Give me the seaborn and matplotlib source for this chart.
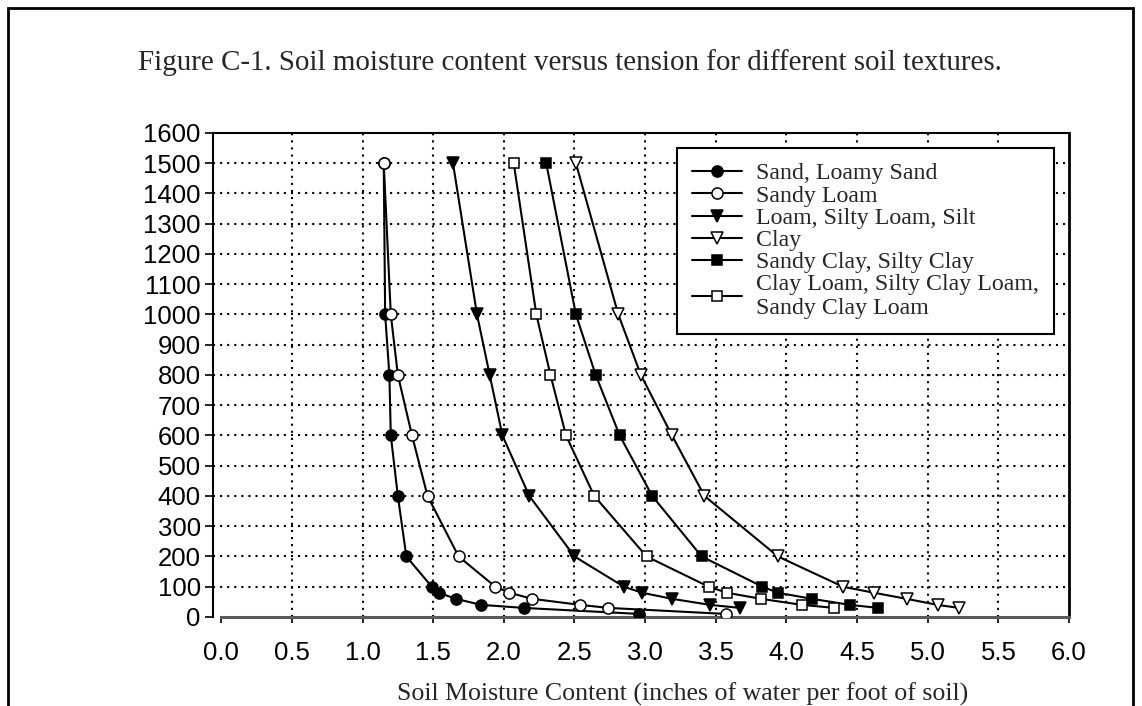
import matplotlib
matplotlib.use("Agg")
import matplotlib.pyplot as plt
import numpy as np
import pandas as pd
import seaborn as sns
from matplotlib.patches import Rectangle

# tension (y) values per curve
tension_long = [1500, 1000, 800, 600, 400, 200, 100, 80, 60, 40, 30, 10]
tension_short = [1500, 1000, 800, 600, 400, 200, 100, 80, 60, 40, 30]

# moisture content (inches of water per foot of soil)
sand = [1.15, 1.16, 1.19, 1.20, 1.25, 1.31, 1.49, 1.54, 1.66, 1.84, 2.14, 2.96]
sandy_loam = [1.15, 1.20, 1.25, 1.35, 1.46, 1.68, 1.94, 2.04, 2.20, 2.54, 2.74, 3.57]
loam = [1.64, 1.81, 1.90, 1.99, 2.18, 2.50, 2.85, 2.98, 3.19, 3.46, 3.67]
clay = [2.51, 2.81, 2.97, 3.19, 3.42, 3.94, 4.40, 4.62, 4.85, 5.07, 5.22]
sandy_clay = [2.30, 2.51, 2.65, 2.82, 3.05, 3.40, 3.83, 3.94, 4.18, 4.45, 4.65]
clay_loam = [2.07, 2.23, 2.33, 2.44, 2.64, 3.01, 3.45, 3.58, 3.82, 4.11, 4.34]

labels = ["Sand, Loamy Sand", "Sandy Loam", "Loam, Silty Loam, Silt", "Clay",
          "Sandy Clay, Silty Clay", "Clay Loam, Silty Clay Loam,\nSandy Clay Loam"]

x_ticks = [0.0, 0.5, 1.0, 1.5, 2.0, 2.5, 3.0, 3.5, 4.0, 4.5, 5.0, 5.5, 6.0]
y_ticks = list(range(0, 1700, 100))

sns.set_style("ticks")
plt.rcParams['font.family'] = ['Liberation Sans', 'DejaVu Sans']
serif = ['Liberation Serif', 'DejaVu Serif']

fig = plt.figure(figsize=(11.42, 7.06), dpi=100)
ax = fig.add_axes([0.1868, 0.1261, 0.7493, 0.6856])

series = [
    (sand, tension_long, 'o', 'black', 8),
    (sandy_loam, tension_long, 'o', 'white', 8),
    (loam, tension_short, 'v', 'black', 9),
    (clay, tension_short, 'v', 'white', 9),
    (sandy_clay, tension_short, 's', 'black', 6.5),
    (clay_loam, tension_short, 's', 'white', 6.5),
]

for (vals, tens, mk, face, ms), lab in zip(series, labels):
    df = pd.DataFrame({'moisture': vals, 'tension': tens})
    sns.lineplot(x='moisture', y='tension', data=df, ax=ax, color='black',
                 linewidth=1.5, marker=mk, markersize=ms, markerfacecolor=face,
                 markeredgecolor='black', markeredgewidth=1.1, label=lab,
                 estimator=None, zorder=3)

ax.set_xlim(-0.056, 6.0)
ax.set_ylim(0, 1600)
ax.set_xticks(x_ticks)
ax.set_xticklabels([f"{v:.1f}" for v in x_ticks])
ax.set_yticks(y_ticks)

# dotted grid
for v in x_ticks[1:-1]:
    ax.axvline(v, color='black', linestyle=(0, (1, 2.4)), linewidth=1.5, zorder=1)
for v in y_ticks[1:-1]:
    ax.axhline(v, color='black', linestyle=(0, (1, 2.4)), linewidth=1.5, zorder=1)

ax.tick_params(axis='y', direction='out', length=6, width=1.2, pad=3,
               labelsize=18.5, colors='black')
ax.tick_params(axis='x', direction='out', length=4.5, width=1.2, pad=13,
               labelsize=18.5, colors='black')

for s in ['left', 'top', 'right']:
    ax.spines[s].set_color('black')
    ax.spines[s].set_linewidth(1.5)
ax.spines['right'].set_linewidth(2)
ax.spines['bottom'].set_color('0.35')
ax.spines['bottom'].set_linewidth(2.2)
ax.spines['bottom'].set_bounds(0, 6.0)

ax.set_ylabel('')
ax.set_xlabel('Soil Moisture Content (inches of water per foot of soil)',
              family=serif, fontsize=18.6)
ax.xaxis.set_label_coords(0.549, -0.135)

leg = ax.legend(loc='upper left', bbox_to_anchor=(0.542, 0.969),
                prop={'family': serif, 'size': 17.2}, frameon=True,
                fancybox=False, framealpha=1, edgecolor='black',
                labelspacing=0.02, handlelength=2.1, handletextpad=0.6,
                borderpad=0.62, borderaxespad=0)
leg.get_frame().set_linewidth(1.5)

fig.text(0.499, 0.912,
         'Figure C-1. Soil moisture content versus tension for different soil textures.',
         ha='center', va='center', family=serif, fontsize=20.9)

fig.patches.append(Rectangle((0.007, -0.05), 0.985, 1.0387, transform=fig.transFigure,
                             fill=False, edgecolor='black', linewidth=2, zorder=0))

fig.savefig('out.png', dpi=100)
